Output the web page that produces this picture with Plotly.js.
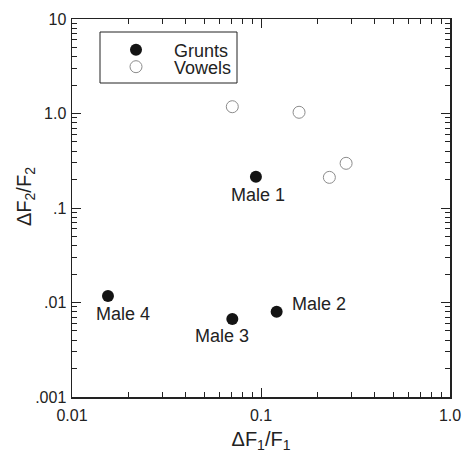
<!DOCTYPE html>
<html>
<head>
<meta charset="utf-8">
<script src="https://cdn.plot.ly/plotly-3.0.1.min.js"></script>
<style>html,body{margin:0;padding:0;background:#fff;}#chart{width:465px;height:455px;}</style>
</head>
<body>
<div id="chart"></div>
<script>
// Data
const gruntLabels = ["Male 1", "Male 2", "Male 3", "Male 4"];
const gruntX = [0.094, 0.121, 0.0705, 0.0155];
const gruntY = [0.214, 0.0080, 0.0067, 0.0117];
const vowelX = [0.0705, 0.159, 0.230, 0.282];
const vowelY = [1.18, 1.03, 0.211, 0.297];
const xTickVals = [0.01, 0.1, 1];
const xTickText = ["0.01", "0.1", "1.0"];
const yTickVals = [0.001, 0.01, 0.1, 1, 10];
const yTickText = [".001", ".01", ".1", "1.0", "10"];
const labelShiftX = [2, 42, -10, 15];
const labelShiftY = [-18, 8, -17, -18];

function minorVals(lo, hi) {
  const v = [];
  for (let d = lo; d < hi; d++) {
    for (let m = 2; m <= 9; m++) v.push(m * Math.pow(10, d));
  }
  return v;
}

const font = "Liberation Sans, Arial, Helvetica, sans-serif";
const ink = "#222";

const traces = [
  {
    x: gruntX, y: gruntY, type: "scatter", mode: "markers", name: "Grunts",
    legend: "legend",
    marker: {symbol: "circle", size: 12, color: "#141414"}
  },
  {
    x: vowelX, y: vowelY, type: "scatter", mode: "markers", name: "Vowels",
    legend: "legend2",
    marker: {symbol: "circle-open", size: 12, color: "#8c8c8c", line: {width: 1, color: "#8c8c8c"}}
  },
  {
    x: [], y: [], xaxis: "x2", yaxis: "y2", type: "scatter", mode: "markers",
    showlegend: false, hoverinfo: "skip"
  }
];

const annotations = gruntLabels.map((t, i) => ({
  x: Math.log10(gruntX[i]), y: Math.log10(gruntY[i]), xref: "x", yref: "y",
  text: t, showarrow: false, xshift: labelShiftX[i], yshift: labelShiftY[i],
  font: {family: font, size: 18, color: ink}
}));
annotations.push({
  xref: "paper", yref: "paper", x: (25 - 72) / 378, y: (397 - 197) / 378,
  xanchor: "center", yanchor: "middle", textangle: -90, showarrow: false,
  text: "ΔF<sub>2</sub>/F<sub>2</sub>", font: {family: font, size: 20, color: ink}
});

const baseAxis = {
  type: "log", showgrid: false, zeroline: false, showline: true,
  linecolor: ink, linewidth: 1.5, mirror: "ticks",
  ticks: "inside", ticklen: 9, tickwidth: 1, tickcolor: ink,
  tickfont: {family: font, size: 16, color: ink}
};

const legendBase = {
  xanchor: "left", yanchor: "middle",
  borderwidth: 0, bgcolor: "rgba(0,0,0,0)",
  font: {family: font, size: 18, color: ink},
  itemwidth: 66, tracegroupgap: 0
};

const layout = {
  width: 465, height: 455,
  margin: {l: 72, r: 15, t: 19, b: 58},
  paper_bgcolor: "#fff", plot_bgcolor: "#fff",
  showlegend: true,
  xaxis: Object.assign({}, baseAxis, {
    range: [-2, 0], tickmode: "array", tickvals: xTickVals, ticktext: xTickText,
    ticklabelstandoff: 3,
    title: {text: "ΔF<sub>1</sub>/F<sub>1</sub>", font: {family: font, size: 20, color: ink}, standoff: 9}
  }),
  yaxis: Object.assign({}, baseAxis, {
    range: [-3, 1], tickmode: "array", tickvals: yTickVals, ticktext: yTickText,
    ticklabelstandoff: 1
  }),
  xaxis2: {
    type: "log", overlaying: "x", anchor: "y2", side: "bottom", range: [-2, 0],
    showgrid: false, zeroline: false, showline: false, mirror: "ticks",
    ticks: "inside", ticklen: 5, tickwidth: 1, tickcolor: ink,
    tickmode: "array", tickvals: minorVals(-2, 0), showticklabels: false
  },
  yaxis2: {
    type: "log", overlaying: "y", anchor: "x2", side: "left", range: [-3, 1],
    showgrid: false, zeroline: false, showline: false, mirror: "ticks",
    ticks: "inside", ticklen: 5, tickwidth: 1, tickcolor: ink,
    tickmode: "array", tickvals: minorVals(-3, 1), showticklabels: false
  },
  legend: Object.assign({}, legendBase, {x: (98 - 72) / 378, y: (397 - 50) / 378}),
  legend2: Object.assign({}, legendBase, {x: (98 - 72) / 378, y: (397 - 67) / 378}),
  shapes: [{
    type: "rect", xref: "paper", yref: "paper",
    x0: (100 - 72) / 378, x1: (237 - 72) / 378,
    y0: (397 - 83) / 378, y1: (397 - 32) / 378,
    line: {color: ink, width: 1}, fillcolor: "rgba(0,0,0,0)", layer: "above"
  }],
  annotations: annotations
};

Plotly.newPlot("chart", traces, layout, {displayModeBar: false, staticPlot: true});
</script>
</body>
</html>
